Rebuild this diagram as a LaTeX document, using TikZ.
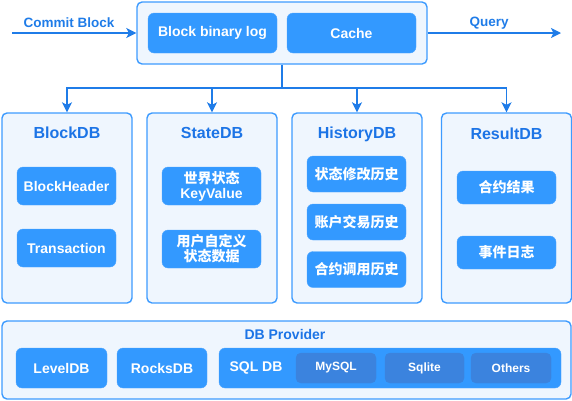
\documentclass[tikz,border=0pt]{standalone}
\usepackage{fontspec}
\setmainfont{Liberation Sans}
\newfontfamily\cjk{Noto Sans CJK SC}
\usepackage{tikz}
\usetikzlibrary{arrows.meta, positioning}
\definecolor{panelfill}{HTML}{EFF6FE}
\definecolor{paneledge}{HTML}{3D9BFF}
\definecolor{boxblue}{HTML}{3399FF}
\definecolor{darkbox}{HTML}{3B83DE}
\definecolor{titleblue}{HTML}{1C74E6}
\definecolor{arrowblue}{HTML}{1F7CE8}
\tikzstyle{panel} = [draw=paneledge, fill=panelfill, rounded corners=5pt,
    line width=1.4pt, inner sep=0pt]
\tikzstyle{caption} = [text=titleblue, font=\fontsize{16}{18}\selectfont\bfseries]
\tikzstyle{item} = [draw=boxblue!85!white, fill=boxblue, rounded corners=6pt,
    minimum width=99pt, text=white, align=center, inner sep=0pt,
    font=\fontsize{14}{17}\selectfont\bfseries]
\tikzstyle{cjkitem} = [item, font=\fontsize{14}{17}\selectfont\cjk\bfseries]
\tikzstyle{subitem} = [draw=darkbox, fill=darkbox, rounded corners=5pt,
    minimum width=80pt, minimum height=30pt, text=white, inner sep=0pt,
    font=\fontsize{12}{14}\selectfont\bfseries]
\tikzstyle{arr} = [-{Stealth[length=10pt, width=10pt, inset=2.5pt]}, line width=1.4pt, arrowblue]
\tikzstyle{flowlabel} = [text=arrowblue, font=\fontsize{13.5}{16}\selectfont\bfseries]

\begin{document}
\begin{tikzpicture}[x=1pt, y=-1pt]
  \useasboundingbox (0,0) rectangle (572,400);

  % Top: write path and cache
  \node[panel, minimum width=290pt, minimum height=62pt] (top) at (282,33) {};
  \node[item, minimum width=129pt, minimum height=40pt] (binlog) at (212.5,33) {Block binary log};
  \node[item, minimum width=129pt, minimum height=40pt] (cache) at (351.5,33) {Cache};
  \coordinate (commit) at (12,33);
  \coordinate (query) at (561,33);
  \node[flowlabel] (commitlabel) at (69,23) {Commit Block};
  \node[flowlabel] (querylabel) at (489,23) {Query};

  % Middle: the four databases
  \node[panel, minimum width=130pt, minimum height=190pt] (blockdb) at (67,208) {};
  \node[panel, minimum width=130pt, minimum height=190pt] (statedb) at (212,208) {};
  \node[panel, minimum width=130pt, minimum height=190pt] (historydb) at (357,208) {};
  \node[panel, minimum width=130pt, minimum height=190pt] (resultdb) at (506.5,208) {};
  \node[caption] (blocktitle) at (67,133) {BlockDB};
  \node[caption] (statetitle) at (212,133) {StateDB};
  \node[caption] (historytitle) at (357,134) {HistoryDB};
  \node[caption] (resulttitle) at (506.5,134) {ResultDB};

  \node[item, minimum height=38pt] (header) at (66.5,186) {BlockHeader};
  \node[item, minimum height=38pt] (txn) at (66.5,248) {Transaction};
  \node[item, minimum height=38pt] (worldstate) at (211.5,186) {{\cjk\bfseries 世界状态}\\[-2pt]KeyValue};
  \node[cjkitem, minimum height=38pt] (userstate) at (211.5,249) {用户自定义\\[-2pt]状态数据};
  \node[cjkitem, minimum height=36pt] (statehist) at (356.5,174) {状态修改历史};
  \node[cjkitem, minimum height=36pt] (accthist) at (356.5,222) {账户交易历史};
  \node[cjkitem, minimum height=36pt] (callhist) at (356.5,269.5) {合约调用历史};
  \node[cjkitem, minimum height=33pt] (contract) at (506.5,187.5) {合约结果};
  \node[cjkitem, minimum height=33pt] (events) at (506.5,252.5) {事件日志};

  % Bottom: storage providers
  \node[panel, minimum width=569pt, minimum height=78pt] (provider) at (286.5,360) {};
  \node[caption, font=\fontsize{14}{16}\selectfont\bfseries] (providertitle) at (285,334) {DB Provider};
  \node[item, minimum width=91pt, minimum height=40pt] (leveldb) at (61.5,368) {LevelDB};
  \node[item, minimum width=90pt, minimum height=40pt] (rocksdb) at (162,368) {RocksDB};
  \node[item, minimum width=342pt, minimum height=40pt] (sqldb) at (390,368) {};
  \node[text=white, font=\fontsize{14}{17}\selectfont\bfseries] (sqltitle) at (256,368) {SQL DB};
  \node[subitem] (mysql) at (336,368) {MySQL};
  \node[subitem, minimum width=79pt] (sqlite) at (424.5,368) {Sqlite};
  \node[subitem] (others) at (511,368) {Others};

  % Arrows
  \coordinate (split) at (282,88);
  \draw[arr] (commit) -- (top.west);
  \draw[arr] (top.east) -- (query);
  \draw[line width=1.4pt, arrowblue] (top.south) -- (split);
  \draw[arr] (split) -| (blockdb.north);
  \draw[arr] (split) -| (statedb.north);
  \draw[arr] (split) -| (historydb.north);
  \draw[arr] (split) -| (resultdb.north);
\end{tikzpicture}
\end{document}
